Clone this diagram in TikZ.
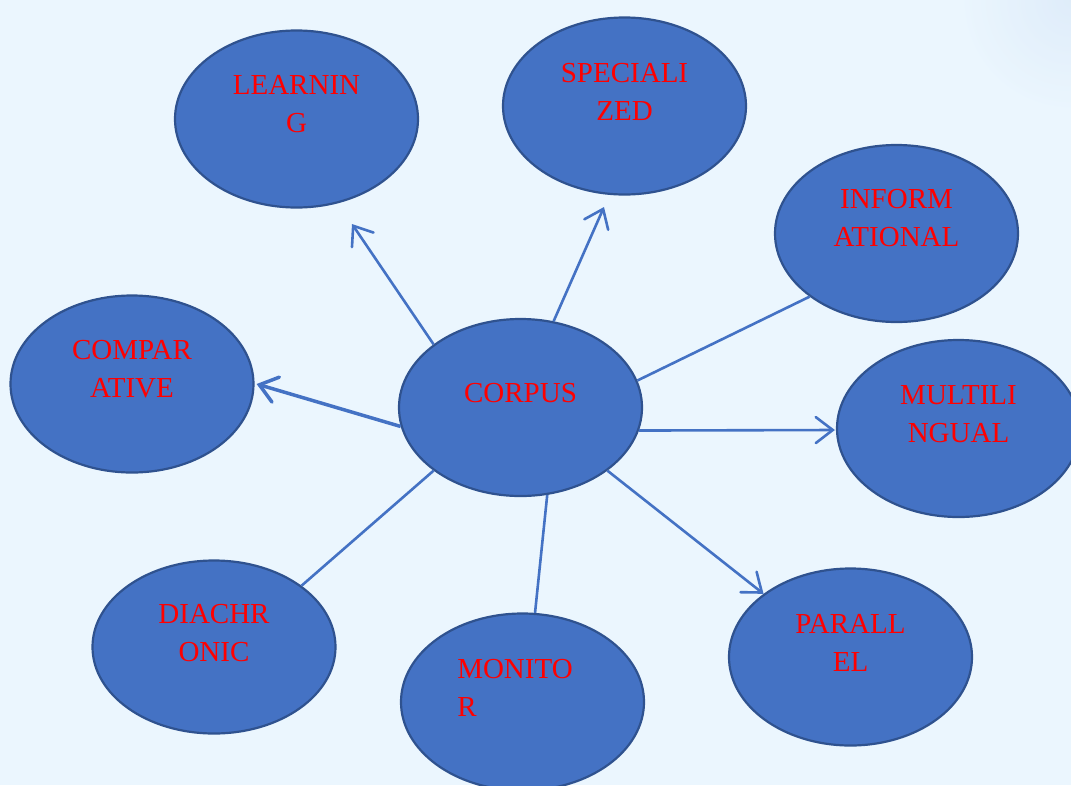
\documentclass[tikz,border=0pt]{standalone}
\usepackage{fontspec}
\setmainfont{Liberation Serif}
\usetikzlibrary{shapes.geometric,arrows.meta}
\definecolor{bg}{HTML}{EBF6FE}
\definecolor{bfill}{HTML}{4472C4}
\definecolor{bline}{HTML}{2F528F}
\definecolor{lbl}{HTML}{FF0000}
\tikzset{
  bubble/.style={ellipse, fill=bfill, draw=bline, line width=2.2pt, minimum width=243pt, minimum height=177pt, inner sep=0pt},
  lab/.style={text=lbl, font=\fontsize{29}{38}\selectfont, align=center, inner sep=0pt},
  conn/.style={draw=bfill, line width=2.6pt},
  arr/.style={conn, -{Straight Barb[length=17pt,width=26pt,line cap=round]}}
}
\begin{document}
\begin{tikzpicture}[x=1pt,y=-1pt]
\fill[bg] (0,0) rectangle (1071,785);
\useasboundingbox (0,0) rectangle (1071,785);
\shade[inner color=bfill!12!bg, outer color=bg, opacity=0.6] (1071,0) circle (110);
% bubbles
\node[bubble] (learning) at (296.5,119) {};
\node[bubble] (specialized) at (624.5,106) {};
\node[bubble] (informational) at (896.5,233.5) {};
\node[bubble] (comparative) at (132,384) {};
\node[bubble] (corpus) at (520.5,407.5) {};
\node[bubble] (multilingual) at (958.5,428.5) {};
\node[bubble, minimum height=173pt] (diachronic) at (214,647) {};
\node[bubble] (monitor) at (522.5,702) {};
\node[bubble] (parallel) at (850.5,657) {};
% free ends
\coordinate (learnTip) at (352,224);
\coordinate (specTip) at (604,207);
% connectors
\draw[arr] (corpus.144.5) -- (learnTip);
\draw[arr] (corpus.69.6) -- (specTip);
\draw[conn] (corpus.13.3) -- (informational.216.3);
\draw[arr, line width=3.5pt] (corpus.189.7) -- ([xshift=2pt]comparative.0);
\draw[arr] (corpus.-11.1) -- ([xshift=-1pt,yshift=-1.5pt]multilingual.180);
\draw[arr] (corpus.-36.4) -- (parallel.144.2);
\draw[conn] (corpus.-73.3) -- (monitor.82);
\draw[conn] (corpus.216.7) -- (diachronic.35.5);
% labels
\node[lab] (tLearning) at (296.5,104.5) {LEARNIN\\G};
\node[lab] (tSpecialized) at (624.5,91.5) {SPECIALI\\ZED};
\node[lab] (tInformational) at (896.5,218.5) {INFORM\\ATIONAL};
\node[lab] (tComparative) at (132,369.5) {COMPAR\\ATIVE};
\node[lab] (tCorpus) at (520.5,393) {CORPUS};
\node[lab] (tMultilingual) at (958.5,414) {MULTILI\\NGUAL};
\node[lab] (tDiachronic) at (214,633) {DIACHR\\ONIC};
\node[lab, align=left] (tMonitor) at (515,687.5) {MONITO\\R};
\node[lab] (tParallel) at (850.5,642.5) {PARALL\\EL};
\end{tikzpicture}
\end{document}
